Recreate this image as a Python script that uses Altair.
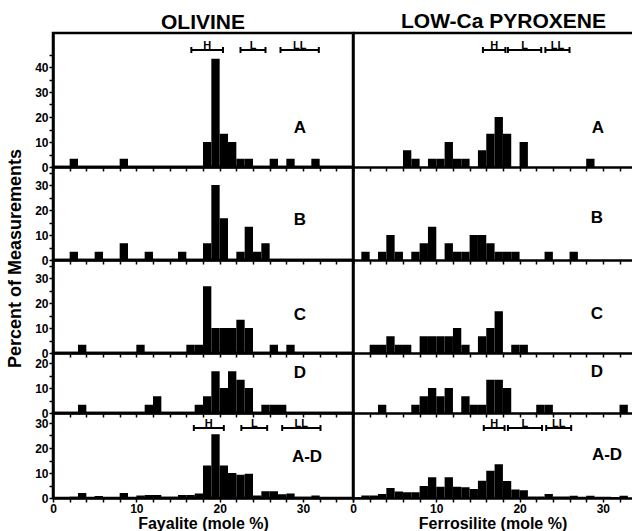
import altair as alt
import pandas as pd

# ---------------- data (percent of measurements per 1 mole-% bin) ----------------
fa_bins = list(range(36))   # Fayalite bin starts (mole %)
fs_bins = list(range(34))   # Ferrosilite bin starts (mole %)

ol_A = [0, 0, 3.3, 0, 0, 0, 0, 0, 3.3, 0,
        0, 0, 0, 0, 0, 0, 0, 0, 10, 43.3,
        13.3, 10, 3.3, 3.3, 0, 0, 3.3, 0, 3.3, 0,
        0, 3.3, 0, 0, 0, 0]
ol_B = [0, 0, 3.3, 0, 0, 3.3, 0, 0, 6.7, 0,
        0, 3.3, 0, 0, 0, 3.3, 0, 0, 6.7, 30,
        16.7, 0, 3.3, 13.3, 3.3, 6.7, 0, 0, 0, 0,
        0, 0, 0, 0, 0, 0]
ol_C = [0, 0, 0, 3.3, 0, 0, 0, 0, 0, 0,
        3.3, 0, 0, 0, 0, 0, 3.3, 3.3, 26.7, 10,
        10, 10, 13.3, 10, 0, 0, 3.3, 0, 3.3, 0,
        0, 0, 0, 0, 0, 0]
ol_D = [0, 0, 0, 3.3, 0, 0, 0, 0, 0, 0,
        0, 3.3, 6.7, 0, 0, 0, 0, 3.3, 6.7, 16.7,
        10, 16.7, 13.3, 10, 0, 3.3, 3.3, 3.3, 0, 0,
        0, 0, 0, 0, 0, 0]
ol_AD = [0, 0, 0.5, 2, 0.3, 0.8, 0.3, 0, 2, 0.3,
         1, 1.2, 1.2, 0.5, 0.5, 1.2, 1.2, 1.8, 13, 25.5,
         13, 10, 9.3, 9.7, 1, 2.7, 2.7, 1.5, 1.8, 0.5,
         0.5, 1, 0.3, 0, 0, 0]

px_A = [0, 0, 0, 0, 0, 0, 6.7, 3.3, 0, 3.3,
        3.3, 10, 3.3, 3.3, 0, 6.7, 13.3, 20, 13.3, 0,
        10, 0, 0, 0, 0, 0, 0, 0, 3.3, 0,
        0, 0, 0, 0]
px_B = [0, 3.3, 0, 3.3, 10, 3.3, 0, 3.3, 6.7, 13.3,
        0, 6.7, 3.3, 3.3, 10, 10, 6.7, 3.3, 3.3, 3.3,
        0, 0, 0, 3.3, 0, 0, 3.3, 0, 0, 0,
        0, 0, 0, 0]
px_C = [0, 0, 3.3, 3.3, 6.7, 3.3, 3.3, 0, 6.7, 6.7,
        6.7, 6.7, 10, 3.3, 0, 6.7, 10, 16.7, 0, 3.3,
        3.3, 0, 0, 0, 0, 0, 0, 0, 0, 0,
        0, 0, 0, 0]
px_D = [0, 0, 0, 3.3, 0, 0, 0, 3.3, 6.7, 10,
        6.7, 10, 0, 6.7, 3.3, 3.3, 13.3, 13.3, 10, 0,
        0, 0, 3.3, 3.3, 0, 0, 0, 0, 0, 0,
        0, 0, 3.3, 0]
px_AD = [0.3, 1, 1, 1.6, 4, 2.6, 2.3, 2.3, 4.8, 8.3,
         4.5, 8.3, 4.5, 4.3, 3.6, 6.9, 10.9, 13.5, 6.8, 3.4,
         3.1, 0.6, 0.6, 1.6, 0.6, 0.6, 0.9, 0.5, 0.9, 0.5,
         0.5, 0.4, 0.9, 0]

panel_labels = ["A", "B", "C", "D", "A-D"]

# chondrite group ranges (H, L, LL)
groups = ["H", "L", "LL"]
ol_top_lo = [16.6, 22.5, 27.3]
ol_top_hi = [20.4, 25.5, 31.9]
ol_bot_lo = [16.9, 22.6, 27.5]
ol_bot_hi = [20.5, 25.7, 32.1]
px_top_lo = [15.6, 18.6, 23.1]
px_top_hi = [18.3, 22.6, 26.0]
px_bot_lo = [15.7, 18.6, 23.2]
px_bot_hi = [18.2, 22.7, 26.2]

fa_max = 36
fs_max = 33.5
y_max = [53.6, 37.2, 37.2, 24, 34]
y_tick_top = [45, 35, 35, 20, 30]

# ---------------- layout constants ----------------
FONT = "Liberation Sans"
LEFT_W = 300
RIGHT_W = 279
ROW_H = [134, 93, 93, 60, 85]
LETTER_POS_L = [(247, 95), (247, 53), (247, 55), (247, 20), (254, 44)]
LETTER_POS_R = [(245, 95), (244, 51), (244, 54), (244, 19), (254, 42)]
BRACKET_Y = {0: 17, 4: 15}


def bar_frame(bins, vals):
    df = pd.DataFrame({"start": bins, "end": [b + 1 for b in bins], "pct": vals})
    return df[df["pct"] > 0]


def bracket_layers(lo, hi, by, xaxis):
    bdf = pd.DataFrame({"group": groups, "lo": lo, "hi": hi})
    bdf["mid"] = (bdf["lo"] + bdf["hi"]) / 2
    line = alt.Chart(bdf).mark_rule(color="black", strokeWidth=2).encode(
        x=alt.X("lo:Q", axis=xaxis), x2="hi:Q", y=alt.value(by))
    ends = alt.Chart(bdf).transform_fold(["lo", "hi"], as_=["which", "xv"]).mark_rule(
        color="black", strokeWidth=2).encode(
        x=alt.X("xv:Q", axis=xaxis), y=alt.value(by - 3), y2=alt.value(by + 3))
    txt = alt.Chart(bdf).mark_text(font=FONT, fontSize=11, fontWeight="bold",
                                   baseline="bottom", dy=1, color="black").encode(
        x=alt.X("mid:Q", axis=xaxis), y=alt.value(by), text="group:N")
    return [line, ends, txt]


def panel(col, row):
    left = col == 0
    bins = fa_bins if left else fs_bins
    vals = [ol_A, ol_B, ol_C, ol_D, ol_AD][row] if left else [px_A, px_B, px_C, px_D, px_AD][row]
    xmax = fa_max if left else fs_max
    width = LEFT_W if left else RIGHT_W
    height = ROW_H[row]
    bottom = row == 4

    if bottom:
        xaxis = alt.Axis(values=list(range(0, int(xmax) + 1, 2)),
                         labelExpr="datum.value % 10 == 0 ? datum.label : ''",
                         labelFlush=False, labelOverlap=False, labelPadding=1,
                         labelFontSize=12,
                         title="Fayalite (mole %)" if left else "Ferrosilite (mole %)",
                         titlePadding=1)
    else:
        xaxis = alt.Axis(values=list(range(0, int(xmax) + 1, 2)), labels=False, title=None)

    if left:
        yargs = dict(values=list(range(0, y_tick_top[row] + 1, 5)),
                     labelExpr="datum.value % 10 == 0 ? datum.label : ''",
                     labelOverlap=False, labelFlush=False, labelPadding=1,
                     labelFontSize=12)
        if row == 2:
            yaxis = alt.Axis(title="Percent of Measurements", titleX=-29, titleY=-2,
                             titleFontSize=18, **yargs)
        else:
            yaxis = alt.Axis(title=None, **yargs)
    else:
        yaxis = alt.Axis(labels=False, ticks=False, title=None)

    bars = alt.Chart(bar_frame(bins, vals)).mark_rect(color="black", clip=True).encode(
        x=alt.X("start:Q", scale=alt.Scale(domain=[0, xmax], nice=False, zero=False), axis=xaxis),
        x2="end:Q",
        y=alt.Y("pct:Q", scale=alt.Scale(domain=[0, y_max[row]], nice=False), axis=yaxis),
        y2=alt.datum(0),
    )
    layers = [bars]

    lx, ly = (LETTER_POS_L if left else LETTER_POS_R)[row]
    layers.append(alt.Chart(pd.DataFrame({"lab": [panel_labels[row]]})).mark_text(
        font=FONT, fontSize=17, fontWeight="bold", color="black").encode(
        text="lab:N", x=alt.value(lx), y=alt.value(ly)))

    if row in BRACKET_Y:
        if left:
            lo, hi = (ol_top_lo, ol_top_hi) if row == 0 else (ol_bot_lo, ol_bot_hi)
        else:
            lo, hi = (px_top_lo, px_top_hi) if row == 0 else (px_bot_lo, px_bot_hi)
        layers += bracket_layers(lo, hi, BRACKET_Y[row], xaxis)

    if (not left) and row == 0:
        layers.append(alt.Chart(pd.DataFrame({"a": [0]})).mark_rule(
            color="black", strokeWidth=2.5).encode(
            x=alt.value(0), x2=alt.value(width), y=alt.value(0)))

    props = dict(width=width, height=height)
    if not left:
        props["view"] = alt.ViewBackground(stroke="transparent")
    if row == 0:
        props["title"] = alt.TitleParams(
            "OLIVINE" if left else "LOW-Ca PYROXENE", font=FONT, fontSize=21,
            fontWeight="bold", color="black", anchor="middle", offset=0,
            dx=0 if left else 11)
    return alt.layer(*layers).properties(**props)


cells = [panel(c, r) for r in range(5) for c in range(2)]

chart = alt.concat(*cells, columns=2, spacing=0, bounds="flush", align="each").properties(
    autosize=alt.AutoSizeParams(type="none", contains="content"),
    padding={"left": 53, "top": 33, "right": 579, "bottom": 498},
).configure_axis(
    domainColor="black", domainWidth=2.5, tickColor="black", tickWidth=1.5, tickSize=4,
    labelFont=FONT, labelFontSize=13, labelFontWeight="bold", labelColor="black",
    titleFont=FONT, titleFontSize=16, titleFontWeight="bold", titleColor="black",
    grid=False,
).configure_view(stroke="black", strokeWidth=2.5)

chart.save("out.html", embed_options={"renderer": "svg", "actions": False})
